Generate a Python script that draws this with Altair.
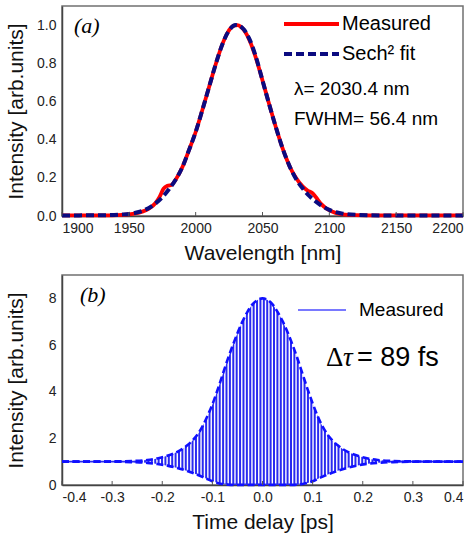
import altair as alt
import pandas as pd

# ---------------- (a) spectrum ----------------
lam_meas = [1900, 1930, 1945, 1950, 1955, 1960, 1965, 1970, 1973, 1976, 1979, 1982, 1985, 1990,
            1995, 2000, 2005, 2010, 2015, 2020, 2024, 2028, 2031, 2034, 2037, 2040, 2045, 2050,
            2055, 2060, 2065, 2070, 2075, 2080, 2084, 2087, 2090, 2094, 2098, 2102, 2106, 2110,
            2120, 2140, 2200]
int_meas = [0.003, 0.003, 0.006, 0.009, 0.014, 0.023, 0.038, 0.068, 0.100, 0.143, 0.158, 0.163, 0.190, 0.255,
            0.345, 0.440, 0.555, 0.675, 0.795, 0.900, 0.962, 0.995, 1.000, 0.990, 0.965, 0.925, 0.830, 0.710,
            0.585, 0.465, 0.355, 0.265, 0.200, 0.155, 0.132, 0.122, 0.098, 0.062, 0.038, 0.024, 0.014, 0.009,
            0.005, 0.003, 0.003]

lam_fit = [1900, 1930, 1945, 1950, 1955, 1960, 1965, 1970, 1975, 1980, 1985, 1990, 1995, 2000,
           2005, 2010, 2015, 2020, 2025, 2030, 2035, 2040, 2045, 2050, 2055, 2060, 2065, 2070,
           2075, 2080, 2085, 2090, 2095, 2100, 2105, 2110, 2120, 2140, 2200]
int_fit = [0.003, 0.004, 0.008, 0.011, 0.017, 0.027, 0.042, 0.066, 0.098, 0.140, 0.190, 0.255, 0.345, 0.440,
           0.555, 0.675, 0.795, 0.900, 0.972, 1.000, 0.985, 0.930, 0.835, 0.710, 0.585, 0.465, 0.355, 0.265,
           0.195, 0.145, 0.105, 0.075, 0.050, 0.032, 0.020, 0.012, 0.006, 0.003, 0.003]

wl_ticks = [1900, 1950, 2000, 2050, 2100, 2150, 2200]
int_ticks = [0.0, 0.2, 0.4, 0.6, 0.8, 1.0]

# ---------------- (b) autocorrelation ----------------
t_env = [-0.40, -0.30, -0.26, -0.23, -0.21, -0.19, -0.17, -0.15, -0.14, -0.13, -0.12, -0.11, -0.10,
         -0.09, -0.08, -0.07, -0.06, -0.05, -0.04, -0.03, -0.02, -0.01, 0.00,
         0.01, 0.02, 0.03, 0.04, 0.05, 0.06, 0.07, 0.08, 0.09, 0.10, 0.11, 0.12, 0.13,
         0.14, 0.15, 0.17, 0.19, 0.21, 0.23, 0.26, 0.30, 0.40]
upper_env = [1.00, 1.01, 1.03, 1.07, 1.14, 1.25, 1.42, 1.70, 1.90, 2.15, 2.50, 2.95, 3.45,
             4.05, 4.70, 5.35, 5.95, 6.50, 7.00, 7.42, 7.74, 7.93, 8.00,
             7.93, 7.74, 7.42, 7.02, 6.55, 6.00, 5.40, 4.75, 4.10, 3.50, 2.95, 2.50, 2.15,
             1.90, 1.70, 1.42, 1.25, 1.14, 1.07, 1.03, 1.01, 1.00]
lower_env = [1.00, 1.00, 0.98, 0.95, 0.90, 0.83, 0.73, 0.60, 0.52, 0.44, 0.35, 0.25, 0.16,
             0.09, 0.04, 0.015, 0.0, 0.0, 0.0, 0.0, 0.0, 0.0, 0.0,
             0.0, 0.0, 0.0, 0.0, 0.0, 0.0, 0.015, 0.04, 0.09, 0.16, 0.26, 0.36, 0.45,
             0.53, 0.61, 0.74, 0.84, 0.91, 0.95, 0.98, 1.00, 1.00]
# flat wings of the measured trace (left and right segments)
wing_t = [-0.40, -0.25, 0.25, 0.40]
wing_v = [1.0, 1.0, 1.0, 1.0]
wing_seg = ["left", "left", "right", "right"]
fringe_period_ps = 0.00677   # optical period at 2030.4 nm

t_ticks = [-0.4, -0.3, -0.2, -0.1, 0.0, 0.1, 0.2, 0.3, 0.4]
ac_ticks = [0, 2, 4, 6, 8]

W, H = 401, 210
SANS = "Liberation Sans"
SERIF = "Liberation Serif"
one = pd.DataFrame({"k": [0]})


def label(text, x, y, size=19, font=SANS, style="normal"):
    return alt.Chart(one).mark_text(text=text, align="left", baseline="middle", fontSize=size,
                                    font=font, fontStyle=style, color="black").encode(
        x=alt.value(x), y=alt.value(y))


def lrule(x1, x2, y, color, width, dash=None):
    kw = dict(color=color, strokeWidth=width)
    if dash:
        kw["strokeDash"] = dash
    return alt.Chart(one).mark_rule(**kw).encode(x=alt.value(x1), x2=alt.value(x2), y=alt.value(y))


# ---- panel (a)
xs_a = alt.Scale(domain=[1900, 2200], nice=False)
ys_a = alt.Scale(domain=[0, 1.1], nice=False)
meas = alt.Chart(pd.DataFrame({"lam": lam_meas, "I": int_meas})).mark_line(
    color="#ff0000", strokeWidth=3.8, interpolate="monotone").encode(
    x=alt.X("lam:Q", scale=xs_a, axis=alt.Axis(values=wl_ticks, format="d", title="Wavelength [nm]",
                                                ticks=False, grid=False, labelPadding=5, titlePadding=7)),
    y=alt.Y("I:Q", scale=ys_a, axis=alt.Axis(values=int_ticks, format=".1f", title="Intensity [arb.units]",
                                              ticks=False, grid=False, labelPadding=6, titleX=-36)))
fit = alt.Chart(pd.DataFrame({"lam": lam_fit, "I": int_fit})).mark_line(
    color="#0b0b80", strokeWidth=4, strokeDash=[8, 4], interpolate="monotone").encode(
    x="lam:Q", y="I:Q")
ticks_a = alt.Chart(pd.DataFrame({"lam": wl_ticks})).mark_rule(color="#555", strokeWidth=1).encode(
    x="lam:Q", y=alt.value(H), y2=alt.value(H - 4))

top = alt.layer(
    meas, fit, ticks_a,
    lrule(222, 277, 18, "#ff0000", 3.8),
    lrule(222, 277, 48, "#0b0b80", 4, [8, 4]),
    label("Measured", 280, 18, 20),
    label("Sech² fit", 280, 48, 20),
    label("λ= 2030.4 nm", 232, 83, 19),
    label("FWHM= 56.4 nm", 232, 113, 19),
    label("(a)", 12, 20, 22, SERIF, "italic"),
).properties(width=W, height=H)

# ---- panel (b)
xs_b = alt.Scale(domain=[-0.4, 0.4], nice=False)
ys_b = alt.Scale(domain=[0, 9], nice=False)
env = pd.DataFrame({"t": t_env, "up": upper_env, "lo": lower_env})
area = alt.Chart(env).mark_area(color="#2a2af0", opacity=1, interpolate="monotone").encode(
    x=alt.X("t:Q", scale=xs_b, axis=alt.Axis(values=t_ticks, format=".1f", title="Time delay [ps]",
                                              labelExpr="replace(datum.label, '\u2212', '-')",
                                              ticks=False, grid=False, labelPadding=5, titlePadding=7)),
    y=alt.Y("up:Q", scale=ys_b, axis=alt.Axis(values=ac_ticks, format="d", title="Intensity [arb.units]",
                                               ticks=False, grid=False, labelPadding=6, titleX=-36)),
    y2="lo:Q")
gaps = alt.Chart(alt.sequence(-0.258, 0.26, fringe_period_ps, as_="t")).mark_rule(
    color="white", strokeWidth=1.4).encode(x="t:Q", y=alt.datum(0.06), y2=alt.datum(8.3))
wings = alt.Chart(pd.DataFrame({"t": wing_t, "v": wing_v, "seg": wing_seg})).mark_line(
    color="#2a2af0", strokeWidth=1.6).encode(x="t:Q", y="v:Q", detail="seg:N")
up_line = alt.Chart(env).mark_line(color="#1010ff", strokeWidth=2.6, strokeDash=[7, 3.5],
                                   interpolate="monotone").encode(x="t:Q", y="up:Q")
lo_line = alt.Chart(env).mark_line(color="#1010ff", strokeWidth=2.6, strokeDash=[7, 3.5],
                                   interpolate="monotone").encode(x="t:Q", y="lo:Q")
ticks_b = alt.Chart(pd.DataFrame({"t": t_ticks})).mark_rule(color="#555", strokeWidth=1).encode(
    x="t:Q", y=alt.value(H), y2=alt.value(H - 4))

bottom = alt.layer(
    area, gaps, wings, up_line, lo_line, ticks_b,
    lrule(236, 284, 35, "#4d4dff", 1.5),
    label("Measured", 297, 35, 19),
    label("Δ", 264, 83, 27, SERIF),
    label("τ", 281, 83, 27, SERIF, "italic"),
    label("= 89 fs", 295, 83, 27),
    label("(b)", 18, 20, 22, SERIF, "italic"),
).properties(width=W, height=H)

chart = alt.vconcat(top, bottom, spacing=10).properties(
    padding={"left": 4, "top": 5, "right": 0, "bottom": 0}
).configure_view(stroke="#707070", strokeWidth=1.5).configure_axis(
    domainColor="#444", domainWidth=1.5, labelFont=SANS, labelFontSize=14, labelColor="#222",
    titleFont=SANS, titleFontSize=21, titleFontWeight="normal", titleColor="#111")

chart.save("out.html", embed_options={"renderer": "svg", "actions": False})
